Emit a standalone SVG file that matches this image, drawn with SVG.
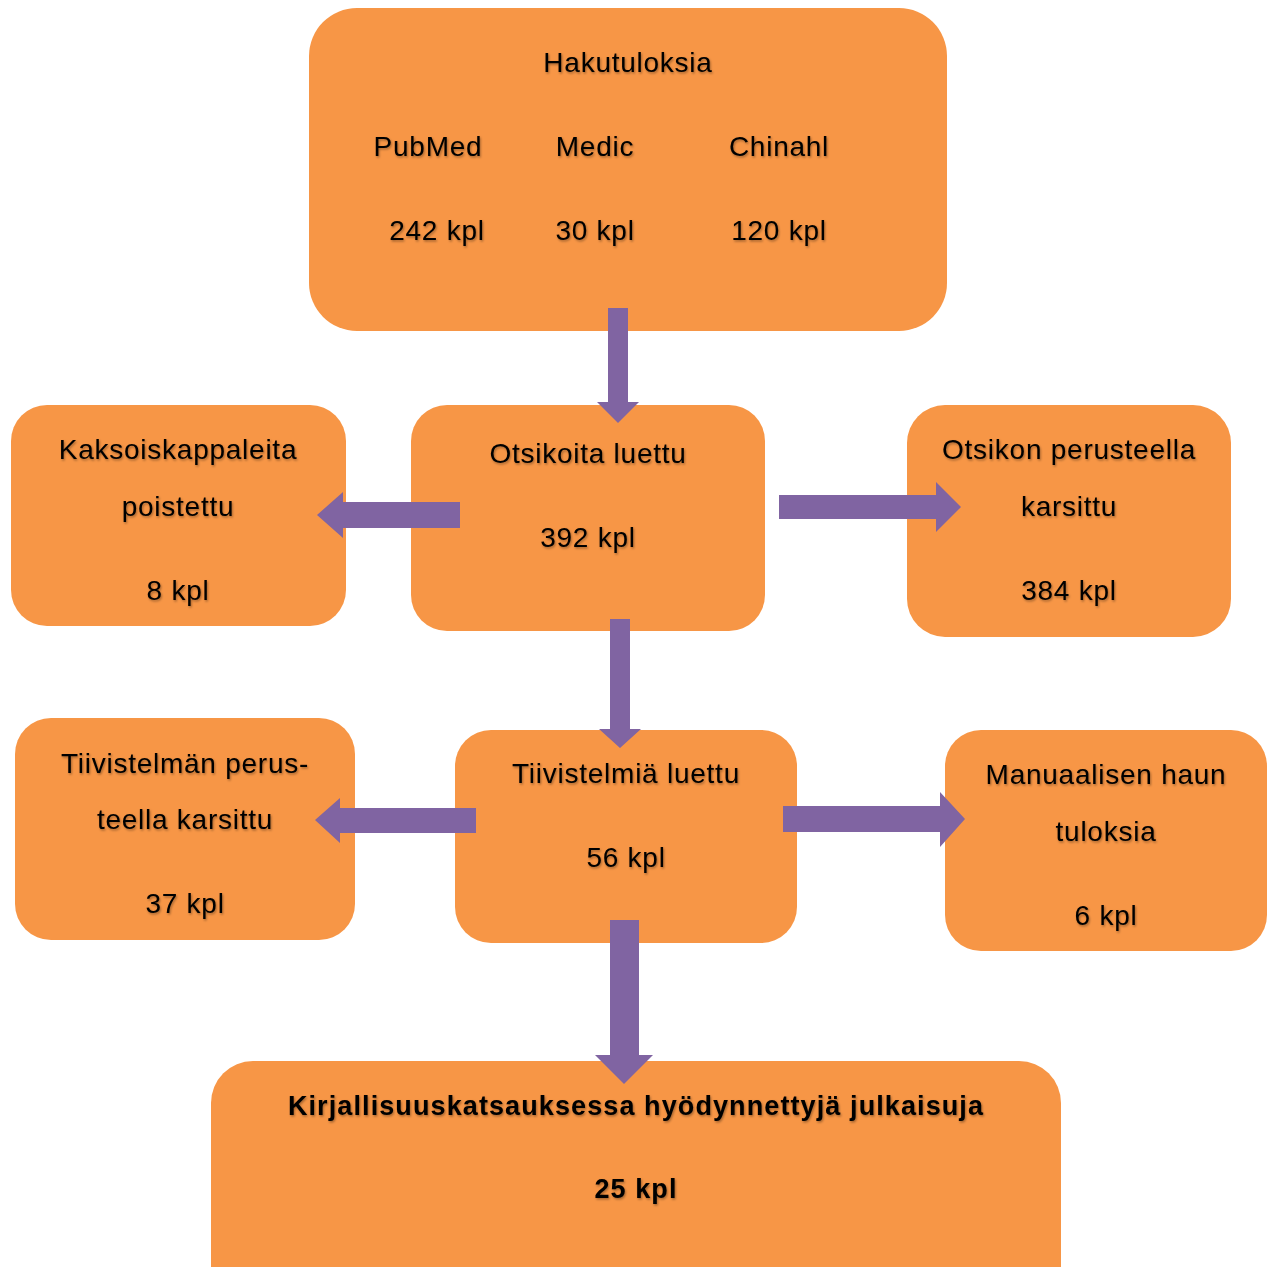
<svg xmlns="http://www.w3.org/2000/svg" width="1274" height="1267" viewBox="0 0 1274 1267">
<defs>
<filter id="sh" x="-5%" y="-20%" width="110%" height="140%">
<feDropShadow dx="1" dy="1.5" stdDeviation="1" flood-color="#000" flood-opacity="0.35"/>
</filter>
<style>
.box{fill:#F79646;}
.t{font-family:"Liberation Sans",Arial,sans-serif;font-size:28px;letter-spacing:0.75px;fill:#000;text-anchor:middle;filter:url(#sh);}
.b{font-weight:bold;font-size:27px;letter-spacing:1.1px;}
.arr{fill:#8064A2;}
</style>
</defs>
<rect width="1274" height="1267" fill="#fff"/>
<g id="hakutuloksia">
<rect class="box" x="309" y="8" width="638" height="323" rx="48"/>
<text class="t" x="628" y="72">Hakutuloksia</text>
<text class="t" x="428" y="156">PubMed</text>
<text class="t" x="595" y="156">Medic</text>
<text class="t" x="779" y="156">Chinahl</text>
<text class="t" x="437" y="240">242 kpl</text>
<text class="t" x="595" y="240">30 kpl</text>
<text class="t" x="779" y="240">120 kpl</text>
</g>
<g id="kaksoiskappaleita">
<rect class="box" x="11" y="405" width="335" height="221" rx="36"/>
<text class="t" x="178" y="459">Kaksoiskappaleita</text>
<text class="t" x="178" y="516">poistettu</text>
<text class="t" x="178" y="600">8 kpl</text>
</g>
<g id="otsikoita">
<rect class="box" x="411" y="405" width="354" height="226" rx="36"/>
<text class="t" x="588" y="463">Otsikoita luettu</text>
<text class="t" x="588" y="547">392 kpl</text>
</g>
<g id="otsikon">
<rect class="box" x="907" y="405" width="324" height="232" rx="38"/>
<text class="t" x="1069" y="459">Otsikon perusteella</text>
<text class="t" x="1069" y="516">karsittu</text>
<text class="t" x="1069" y="600">384 kpl</text>
</g>
<g id="tiivistelman">
<rect class="box" x="15" y="718" width="340" height="222" rx="36"/>
<text class="t" x="185" y="773">Tiivistelmän perus-</text>
<text class="t" x="185" y="829">teella karsittu</text>
<text class="t" x="185" y="913">37 kpl</text>
</g>
<g id="tiivistelmia">
<rect class="box" x="455" y="730" width="342" height="213" rx="36"/>
<text class="t" x="626" y="783">Tiivistelmiä luettu</text>
<text class="t" x="626" y="867">56 kpl</text>
</g>
<g id="manuaalisen">
<rect class="box" x="945" y="730" width="322" height="221" rx="36"/>
<text class="t" x="1106" y="784">Manuaalisen haun</text>
<text class="t" x="1106" y="841">tuloksia</text>
<text class="t" x="1106" y="925">6 kpl</text>
</g>
<g id="kirjallisuus">
<rect class="box" x="211" y="1061" width="850" height="250" rx="42"/>
<text class="t b" x="636" y="1115">Kirjallisuuskatsauksessa hyödynnettyjä julkaisuja</text>
<text class="t b" x="636" y="1198">25 kpl</text>
</g>
<g id="connectors">
<polygon class="arr" points="608,308 628,308 628,402 639,402 618,423 597,402 608,402"/>
<polygon class="arr" points="460,502 460,528 343,528 343,538 317,515 343,492 343,502"/>
<polygon class="arr" points="779,495 936,495 936,482 961,507 936,532 936,519 779,519"/>
<polygon class="arr" points="610,619 630,619 630,729 641,729 620,748 599,729 610,729"/>
<polygon class="arr" points="476,808 476,833 340,833 340,843 315,820 340,798 340,808"/>
<polygon class="arr" points="783,806 940,806 940,792 965,819 940,847 940,832 783,832"/>
<polygon class="arr" points="610,920 639,920 639,1055 653,1055 624,1084 595,1055 610,1055"/>
</g>
</svg>
